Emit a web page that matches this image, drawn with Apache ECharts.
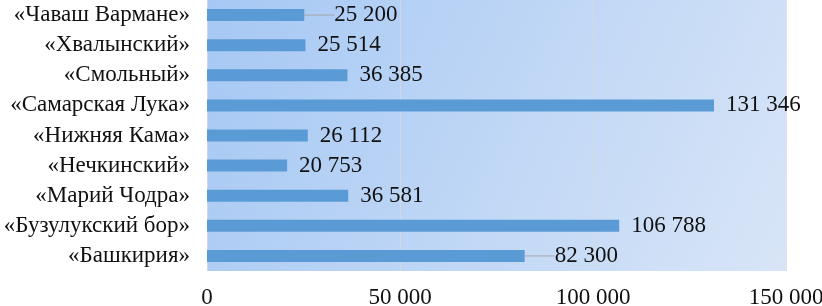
<!DOCTYPE html>
<html>
<head>
<meta charset="utf-8">
<script src="https://cdn.jsdelivr.net/npm/echarts@6/dist/echarts.min.js"></script>
<style>
  html, body { margin: 0; padding: 0; background: #fff; }
  #chart { width: 822px; height: 306px; }
</style>
</head>
<body>
<div id="chart"></div>
<script>
// bottom to top, as the axis draws them
const parks = [
  '«Башкирия»',
  '«Бузулукский бор»',
  '«Марий Чодра»',
  '«Нечкинский»',
  '«Нижняя Кама»',
  '«Самарская Лука»',
  '«Смольный»',
  '«Хвалынский»',
  '«Чаваш Вармане»'
]
const areas = [82300, 106788, 36581, 20753, 26112, 131346, 36385, 25514, 25200]
const xTicks = [0, 50000, 100000, 150000]
// labels pulled out with a leader line
const leaderIdx = [0, 8]

const fmt = v => String(v).replace(/\B(?=(\d{3})+(?!\d))/g, ' ')
const font = '"Liberation Serif", "Times New Roman", serif'

const chart = echarts.init(document.getElementById('chart'))

chart.setOption({
  animation: false,
  grid: {
    left: 207,
    right: 36,
    top: 0,
    bottom: 35,
    outerBoundsMode: 'none',
    containLabel: false,
    show: true,
    borderWidth: 0,
    backgroundColor: {
      type: 'linear',
      x: 0, y: 0, x2: 1, y2: 1,
      colorStops: [
        { offset: 0, color: '#a6c8f4' },
        { offset: 1, color: '#d8e5f7' }
      ]
    }
  },
  xAxis: {
    type: 'value',
    min: xTicks[0],
    max: xTicks[xTicks.length - 1],
    interval: 50000,
    axisLine: { show: false },
    axisTick: { show: false },
    splitLine: { lineStyle: { color: 'rgba(215,218,226,0.75)', width: 1 } },
    axisLabel: {
      formatter: v => fmt(v),
      color: '#111',
      fontFamily: font,
      fontSize: 23,
      margin: 15,
      hideOverlap: false
    }
  },
  yAxis: {
    type: 'category',
    data: parks,
    axisLine: { show: false },
    axisTick: { show: false },
    axisLabel: {
      interval: 0,
      color: '#111',
      fontFamily: font,
      fontSize: 23,
      margin: 17
    }
  },
  series: [{
    type: 'bar',
    data: areas.map((v, i) => leaderIdx.includes(i)
      ? { value: v, labelLine: { show: true } }
      : v),
    barWidth: 12,
    itemStyle: { color: '#5b9bd5' },
    label: {
      show: true,
      position: 'right',
      distance: 12,
      formatter: p => fmt(p.value),
      color: '#111',
      fontFamily: font,
      fontSize: 23
    },
    labelLine: { show: false, lineStyle: { color: '#a6a6a6', width: 1 } },
    labelLayout: p => leaderIdx.includes(p.dataIndex) ? { dx: 18 } : {}
  }]
})
</script>
</body>
</html>
